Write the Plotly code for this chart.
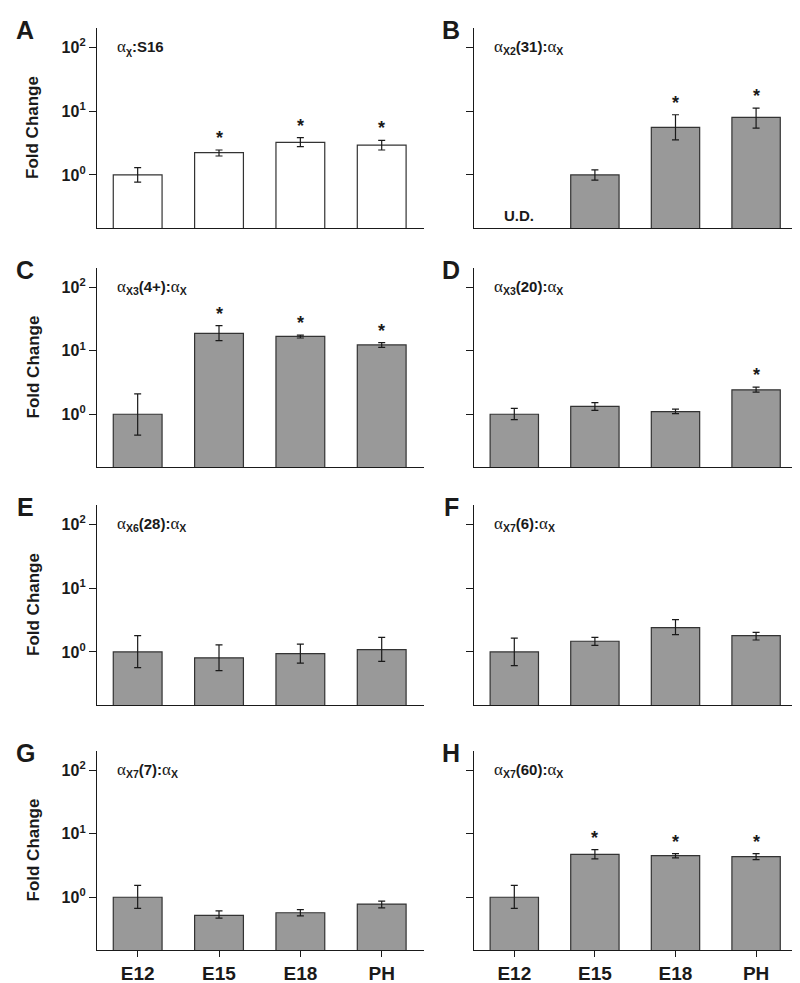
import numpy as np
import plotly.graph_objects as go

categories = ['E12', 'E15', 'E18', 'PH']

# fold change (bar top), upper and lower error limits
a_mean = [1.0, 2.23, 3.24, 2.94]
a_upper = [1.30, 2.46, 3.83, 3.48]
a_lower = [0.77, 1.98, 2.77, 2.46]
a_sig = [False, True, True, True]

b_mean = [None, 1.0, 5.54, 7.95]
b_upper = [None, 1.20, 8.76, 11.1]
b_lower = [None, 0.83, 3.55, 5.41]
b_sig = [False, False, True, True]

c_mean = [1.0, 18.7, 16.8, 12.3]
c_upper = [2.09, 24.7, 17.6, 13.4]
c_lower = [0.47, 14.4, 15.8, 11.3]
c_sig = [False, True, True, True]

d_mean = [1.0, 1.33, 1.10, 2.42]
d_upper = [1.24, 1.52, 1.20, 2.67]
d_lower = [0.82, 1.15, 1.02, 2.23]
d_sig = [False, False, False, True]

e_mean = [1.0, 0.81, 0.94, 1.09]
e_upper = [1.80, 1.29, 1.33, 1.69]
e_lower = [0.57, 0.51, 0.67, 0.71]
e_sig = [False, False, False, False]

f_mean = [1.0, 1.47, 2.40, 1.80]
f_upper = [1.65, 1.69, 3.20, 2.03]
f_lower = [0.61, 1.27, 1.87, 1.54]
f_sig = [False, False, False, False]

g_mean = [1.0, 0.52, 0.57, 0.78]
g_upper = [1.54, 0.61, 0.64, 0.87]
g_lower = [0.67, 0.47, 0.51, 0.68]
g_sig = [False, False, False, False]

h_mean = [1.0, 4.73, 4.51, 4.35]
h_upper = [1.54, 5.60, 4.85, 4.85]
h_lower = [0.67, 4.00, 4.15, 3.91]
h_sig = [False, True, True, True]

# the alpha in the panel titles is a thin serif glyph
ALPHA = '<span style="font-weight:normal;font-family:Liberation Serif;font-size:17px">α</span>'
panels = [
    ('A', ALPHA + '<sub>χ</sub>:S16', a_mean, a_upper, a_lower, a_sig, 'white'),
    ('B', ALPHA + '<sub>X2</sub>(31):' + ALPHA + '<sub>X</sub>', b_mean, b_upper, b_lower, b_sig, '#999999'),
    ('C', ALPHA + '<sub>X3</sub>(4+):' + ALPHA + '<sub>X</sub>', c_mean, c_upper, c_lower, c_sig, '#999999'),
    ('D', ALPHA + '<sub>X3</sub>(20):' + ALPHA + '<sub>X</sub>', d_mean, d_upper, d_lower, d_sig, '#999999'),
    ('E', ALPHA + '<sub>X6</sub>(28):' + ALPHA + '<sub>X</sub>', e_mean, e_upper, e_lower, e_sig, '#999999'),
    ('F', ALPHA + '<sub>X7</sub>(6):' + ALPHA + '<sub>X</sub>', f_mean, f_upper, f_lower, f_sig, '#999999'),
    ('G', ALPHA + '<sub>X7</sub>(7):' + ALPHA + '<sub>X</sub>', g_mean, g_upper, g_lower, g_sig, '#999999'),
    ('H', ALPHA + '<sub>X7</sub>(60):' + ALPHA + '<sub>X</sub>', h_mean, h_upper, h_lower, h_sig, '#999999'),
]

W, H = 800, 983
FONT = 'Liberation Sans, Arial, sans-serif'
INK = '#1a1a1a'

# pixel boxes of the plotting areas
col_x = [(89, 416), (466, 790)]
row_y = [(20, 220), (260, 459), (497, 697), (743, 942)]

fig = go.Figure()
annotations = []
layout = {}

for i, (letter, title, mean, upper, lower, sig, color) in enumerate(panels):
    row, col = divmod(i, 2)
    n = '' if i == 0 else str(i + 1)
    xa, ya = 'x' + n, 'y' + n
    plus = [None if m is None else u - m for m, u in zip(mean, upper)]
    minus = [None if m is None else m - l for m, l in zip(mean, lower)]

    fig.add_trace(go.Bar(
        x=categories, y=mean, xaxis=xa, yaxis=ya, width=0.6,
        marker=dict(color=color, line=dict(color='#333333', width=1.2)),
        error_y=dict(type='data', symmetric=False, array=plus, arrayminus=minus,
                     color=INK, thickness=1.2, width=3.5),
        showlegend=False, hoverinfo='skip'
    ))

    x0, x1 = col_x[col]
    y0, y1 = row_y[row]
    bottom = row == 3
    layout['xaxis' + n] = dict(
        domain=[x0 / W, x1 / W], anchor=ya, type='category',
        range=[-0.5, 3.52], showline=True, linecolor=INK, linewidth=1.3,
        showgrid=False, zeroline=False, fixedrange=True,
        ticks='outside' if bottom else '', ticklen=6, tickwidth=1.3, tickcolor=INK,
        showticklabels=bottom,
        tickfont=dict(family=FONT, size=19, color=INK, weight='bold'),
    )
    layout['yaxis' + n] = dict(
        domain=[1 - y1 / H, 1 - y0 / H], anchor=xa, type='log',
        range=[-0.83, 2.3], showline=True, linecolor=INK, linewidth=1.3,
        showgrid=False, zeroline=False,
        ticks='outside', ticklen=7, tickwidth=1.3, tickcolor=INK,
        tickmode='array', tickvals=[1, 10, 100],
        ticktext=['10<sup>0</sup>', '10<sup>1</sup>', '10<sup>2</sup>'],
        showticklabels=(col == 0),
        tickfont=dict(family=FONT, size=16, color=INK, weight='bold'),
    )

    # panel letter
    annotations.append(dict(
        text=letter, xref='paper', yref='paper',
        x=(17 if col == 0 else 443) / W, y=1 - (y0 + 2) / H,
        xanchor='center', yanchor='middle', showarrow=False,
        font=dict(family=FONT, size=25, color=INK, weight='bold')
    ))
    # panel title
    annotations.append(dict(
        text=title, xref=xa + ' domain', yref=ya + ' domain',
        x=0.055, y=0.905, xanchor='left', yanchor='middle', showarrow=False,
        font=dict(family=FONT, size=15, color=INK, weight='bold')
    ))
    if col == 0:
        annotations.append(dict(
            text='Fold Change', xref='paper', yref='paper',
            x=25 / W, y=1 - (y0 + y1) / 2 / H, textangle=-90,
            xanchor='center', yanchor='middle', showarrow=False,
            font=dict(family=FONT, size=17, color=INK, weight='bold')
        ))
    # significance stars
    for cat, u, s in zip(categories, upper, sig):
        if s:
            annotations.append(dict(
                text='*', xref=xa, yref=ya, x=cat, y=np.log10(u),
                yshift=12, xanchor='center', yanchor='middle', showarrow=False,
                font=dict(family=FONT, size=18, color=INK, weight='bold')
            ))

# undetected value in panel B
annotations.append(dict(
    text='U.D.', xref='x2', yref='y2 domain', x='E12', y=0.065,
    xanchor='center', yanchor='middle', showarrow=False, xshift=5,
    font=dict(family=FONT, size=15, color=INK, weight='bold')
))

fig.update_layout(
    width=W, height=H,
    margin=dict(l=0, r=0, t=0, b=0),
    plot_bgcolor='white', paper_bgcolor='white',
    bargap=0.4,
    annotations=annotations,
    **layout
)

fig.write_html('out.html')
